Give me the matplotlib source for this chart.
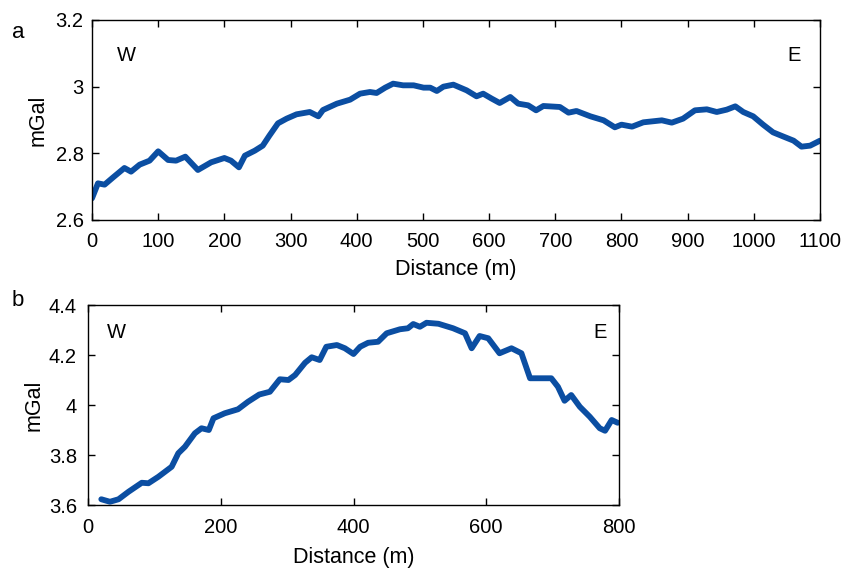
import matplotlib
matplotlib.use("Agg")
import matplotlib.pyplot as plt
from matplotlib.ticker import FuncFormatter

plt.rcParams['font.family'] = ['Liberation Sans', 'DejaVu Sans']

# ---- panel a: profile W-E, 0-1100 m ----
dist_a = [0, 9, 19, 32, 49, 59, 72, 87, 100, 115, 127, 141, 160, 180, 200, 210,
          222, 231, 246, 258, 268, 281, 294, 309, 329, 342, 349, 370, 390, 405,
          420, 430, 443, 455, 470, 486, 501, 511, 521, 531, 546, 566, 581, 591,
          604, 616, 632, 644, 659, 671, 682, 707, 720, 732, 753, 773, 790, 800,
          816, 833, 861, 876, 893, 911, 929, 944, 959, 972, 984, 999, 1014,
          1029, 1045, 1060, 1072, 1085, 1100]
grav_a = [2.665, 2.710, 2.706, 2.728, 2.756, 2.745, 2.766, 2.778, 2.806, 2.780,
          2.778, 2.790, 2.750, 2.773, 2.786, 2.778, 2.758, 2.793, 2.808, 2.823,
          2.853, 2.890, 2.904, 2.917, 2.924, 2.911, 2.930, 2.949, 2.961, 2.979,
          2.984, 2.981, 2.997, 3.009, 3.004, 3.004, 2.997, 2.997, 2.987, 3.000,
          3.006, 2.989, 2.971, 2.979, 2.964, 2.951, 2.969, 2.949, 2.944, 2.929,
          2.942, 2.939, 2.922, 2.927, 2.911, 2.899, 2.878, 2.886, 2.880, 2.893,
          2.899, 2.892, 2.904, 2.929, 2.932, 2.924, 2.931, 2.941, 2.924, 2.911,
          2.886, 2.863, 2.850, 2.838, 2.820, 2.823, 2.838]

# ---- panel b: profile W-E, 0-800 m ----
dist_b = [20, 33, 46, 61, 81, 91, 106, 126, 136, 146, 161, 171, 182, 189, 206,
          226, 241, 258, 274, 289, 302, 312, 327, 337, 349, 359, 375, 387, 400,
          410, 422, 437, 450, 470, 482, 490, 500, 510, 528, 550, 568, 578, 590,
          603, 620, 638, 653, 666, 681, 698, 708, 718, 728, 741, 756, 771, 779,
          789, 798]
grav_b = [3.623, 3.613, 3.623, 3.653, 3.689, 3.687, 3.713, 3.753, 3.807, 3.833,
          3.887, 3.907, 3.900, 3.947, 3.967, 3.983, 4.013, 4.042, 4.053, 4.103,
          4.100, 4.120, 4.169, 4.191, 4.180, 4.233, 4.240, 4.227, 4.204, 4.233,
          4.249, 4.253, 4.287, 4.303, 4.307, 4.324, 4.313, 4.329, 4.325, 4.307,
          4.287, 4.227, 4.276, 4.267, 4.207, 4.227, 4.207, 4.107, 4.107, 4.107,
          4.073, 4.017, 4.040, 3.993, 3.953, 3.907, 3.897, 3.940, 3.929]

xticks_a = [0, 100, 200, 300, 400, 500, 600, 700, 800, 900, 1000, 1100]
yticks_a = [2.6, 2.8, 3.0, 3.2]
xticks_b = [0, 200, 400, 600, 800]
yticks_b = [3.6, 3.8, 4.0, 4.2, 4.4]

LINE_COLOR = "#0b4ea2"
TICK_FS = 14.5
LABEL_FS = 15.5

fig = plt.figure(figsize=(8.44, 5.68), dpi=100)
ax_a = fig.add_axes([0.109, 0.6127, 0.8626, 0.3521])
ax_b = fig.add_axes([0.1043, 0.1109, 0.6291, 0.3521])

gfmt = FuncFormatter(lambda v, p: f"{v:g}")

for ax, x, y, xt, yt in [(ax_a, dist_a, grav_a, xticks_a, yticks_a),
                         (ax_b, dist_b, grav_b, xticks_b, yticks_b)]:
    ax.plot(x, y, color=LINE_COLOR, lw=4.2, solid_joinstyle="round",
            solid_capstyle="round")
    ax.set_xlim(xt[0], xt[-1])
    ax.set_ylim(yt[0], yt[-1])
    ax.set_xticks(xt)
    ax.set_yticks(yt)
    ax.yaxis.set_major_formatter(gfmt)
    ax.tick_params(direction="in", top=True, right=True, length=5,
                   width=1, labelsize=TICK_FS, pad=6)
    ax.tick_params(axis="x", pad=9)
    ax.set_xlabel("Distance (m)", fontsize=LABEL_FS, va="center")
    ax.set_ylabel("mGal", fontsize=LABEL_FS, va="center")
    for s in ax.spines.values():
        s.set_linewidth(1)

# label positions (axes fraction)
ax_a.xaxis.set_label_coords(0.5, -0.25)
ax_a.yaxis.set_label_coords(-0.074, 0.5)
ax_b.xaxis.set_label_coords(0.5, -0.26)
ax_b.yaxis.set_label_coords(-0.102, 0.5)
ax_b.tick_params(axis="y", pad=8)

ax_a.text(0.034, 0.795, "W", transform=ax_a.transAxes, fontsize=TICK_FS,
          ha="left", va="baseline")
ax_a.text(0.973, 0.795, "E", transform=ax_a.transAxes, fontsize=TICK_FS,
          ha="right", va="baseline")
ax_b.text(0.036, 0.835, "W", transform=ax_b.transAxes, fontsize=TICK_FS,
          ha="left", va="baseline")
ax_b.text(0.977, 0.835, "E", transform=ax_b.transAxes, fontsize=TICK_FS,
          ha="right", va="baseline")

fig.text(12 / 844, 1 - 38 / 568, "a", fontsize=16, ha="left", va="baseline")
fig.text(12 / 844, 1 - 306 / 568, "b", fontsize=16, ha="left", va="baseline")

fig.savefig("out.png", dpi=100)
